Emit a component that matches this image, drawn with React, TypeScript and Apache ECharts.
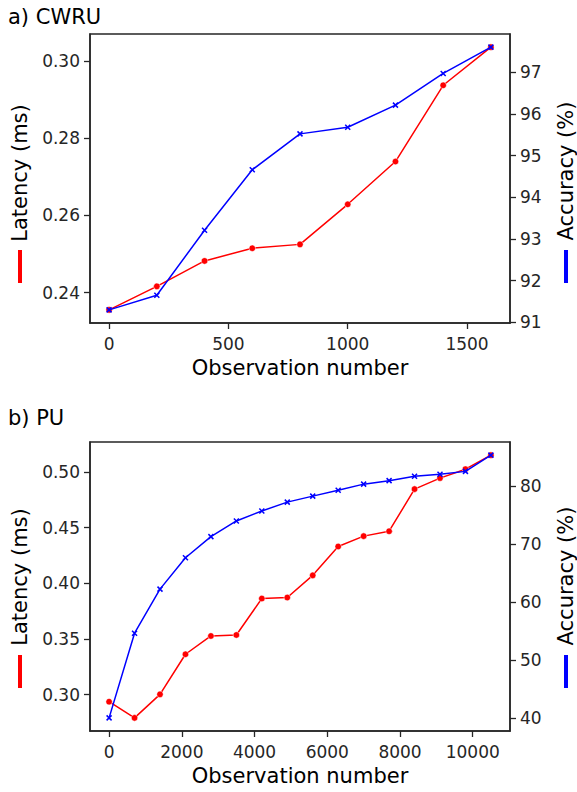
import React, { useEffect, useRef } from "react";
import * as echarts from "echarts";

// ---- data ----
const cwruObs = [0, 200, 400, 600, 800, 1000, 1200, 1400, 1600];
const cwruLatency = [0.2355, 0.2416, 0.2482, 0.2515, 0.2525, 0.2629, 0.274, 0.2938, 0.3037];
const cwruAccuracy = [91.3, 91.65, 93.21, 94.66, 95.52, 95.68, 96.21, 96.97, 97.6];

const puObs = [0, 700, 1400, 2100, 2800, 3500, 4200, 4900, 5600, 6300, 7000, 7700, 8400, 9100, 9800, 10500];
const puLatency = [0.2937, 0.2792, 0.3003, 0.3363, 0.3527, 0.3536, 0.3863, 0.3872, 0.4071, 0.433, 0.4423, 0.4467, 0.4845, 0.4944, 0.5024, 0.515];
const puAccuracy = [40.0, 54.6, 62.2, 67.6, 71.25, 73.95, 75.67, 77.2, 78.23, 79.26, 80.3, 80.9, 81.67, 82.0, 82.5, 85.3];

const cwruXTicks = [0, 500, 1000, 1500];
const cwruLatTicks = [0.24, 0.26, 0.28, 0.3];
const cwruAccTicks = [91, 92, 93, 94, 95, 96, 97];
const puXTicks = [0, 2000, 4000, 6000, 8000, 10000];
const puLatTicks = [0.3, 0.35, 0.4, 0.45, 0.5];
const puAccTicks = [40, 50, 60, 70, 80];

const titles = ["a) CWRU", "b) PU"];
const xName = "Observation number";
const leftName = "Latency (ms)";
const rightName = "Accuracy (%)";

const AX = "#262626";
const RED = "#ff0000";
const BLUE = "#0000ff";
const FONT = "DejaVu Sans";
const NAME_SIZE = 21;

const padMin = (v: any) => v.min - 0.05 * (v.max - v.min);
const padMax = (v: any) => v.max + 0.05 * (v.max - v.min);

function valueAxis(ticks: number[], fmt: (v: number) => string, extra: any, labelMargin = 10) {
  return {
    type: "value",
    scale: true,
    min: padMin,
    max: padMax,
    axisLine: { show: true, onZero: false, lineStyle: { color: AX, width: 1.5 } },
    axisTick: { show: true, length: 6, customValues: ticks, lineStyle: { color: AX, width: 1.3 } },
    axisLabel: {
      customValues: ticks,
      formatter: (v: number) => fmt(v),
      color: AX,
      fontSize: 17,
      fontFamily: FONT,
      margin: labelMargin,
    },
    splitLine: { show: false },
    ...extra,
  };
}

const pairs = (xs: number[], ys: number[]) => xs.map((x, i) => [x, ys[i]]);

export default function App() {
  const ref = useRef<HTMLDivElement>(null);
  useEffect(() => {
    if (!ref.current) return;
    const chart = echarts.init(ref.current, null, { renderer: "svg" });
    const grids = [
      { left: 90, top: 34, width: 420, height: 289 },
      { left: 90, top: 442, width: 420, height: 289 },
    ].map((g) => ({ ...g, show: true, borderColor: AX, borderWidth: 1.5, backgroundColor: "transparent" }));

    const xNameCfg = {
      position: "bottom",
      name: xName,
      nameLocation: "middle",
      nameGap: 34,
      nameTextStyle: { fontSize: NAME_SIZE, color: "#000000", fontFamily: FONT },
    };
    const xAxes = [
      valueAxis(cwruXTicks, (v) => String(v), { gridIndex: 0, ...xNameCfg }, 12),
      valueAxis(puXTicks, (v) => String(v), { gridIndex: 1, ...xNameCfg }, 12),
    ];
    const yAxes = [
      valueAxis(cwruLatTicks, (v) => v.toFixed(2), { gridIndex: 0, position: "left" }),
      valueAxis(cwruAccTicks, (v) => String(v), { gridIndex: 0, position: "right" }),
      valueAxis(puLatTicks, (v) => v.toFixed(2), { gridIndex: 1, position: "left" }),
      valueAxis(puAccTicks, (v) => String(v), { gridIndex: 1, position: "right" }),
    ];

    const xSymbol = "path://M0,0L10,10M0,10L10,0";
    const latSeries = (x: number, y: number, data: number[][]) => ({
      type: "line",
      xAxisIndex: x,
      yAxisIndex: y,
      data,
      symbol: "circle",
      symbolSize: 6.5,
      lineStyle: { color: RED, width: 1.5 },
      itemStyle: { color: RED, borderColor: "#ffffff", borderWidth: 0.5 },
      z: 2,
    });
    const accSeries = (x: number, y: number, data: number[][]) => ({
      type: "line",
      xAxisIndex: x,
      yAxisIndex: y,
      data,
      symbol: xSymbol,
      symbolSize: 5,
      lineStyle: { color: BLUE, width: 1.5 },
      itemStyle: { color: BLUE, borderColor: BLUE, borderWidth: 1.5 },
      z: 3,
    });

    const txt = (text: string, x: number, y: number, rot: number, align: string) => ({
      type: "text",
      x,
      y,
      rotation: rot,
      style: { text, fontSize: NAME_SIZE, fontFamily: FONT, fill: "#000000", align, verticalAlign: "middle" },
    });
    const bar = (x: number, y: number, color: string) => ({
      type: "rect",
      shape: { x, y, width: 4, height: 33 },
      style: { fill: color },
    });

    chart.setOption({
      animation: false,
      backgroundColor: "#ffffff",
      grid: grids,
      xAxis: xAxes,
      yAxis: yAxes,
      series: [
        latSeries(0, 0, pairs(cwruObs, cwruLatency)),
        accSeries(0, 1, pairs(cwruObs, cwruAccuracy)),
        latSeries(1, 2, pairs(puObs, puLatency)),
        accSeries(1, 3, pairs(puObs, puAccuracy)),
      ],
      graphic: [
        txt(titles[0], 8, 17, 0, "left"),
        txt(titles[1], 8, 418, 0, "left"),
        txt(leftName, 20, 173, Math.PI / 2, "center"),
        txt(rightName, 566, 171, Math.PI / 2, "center"),
        txt(leftName, 20, 577, Math.PI / 2, "center"),
        txt(rightName, 566, 576, Math.PI / 2, "center"),
        bar(18, 250, RED),
        bar(564, 250, BLUE),
        bar(18, 655, RED),
        bar(564, 655, BLUE),
      ],
    });
    return () => chart.dispose();
  }, []);
  return (
    <div
      ref={ref}
      style={{ position: "fixed", left: 0, top: 0, width: 577, height: 792, background: "#fff" }}
    />
  );
}
